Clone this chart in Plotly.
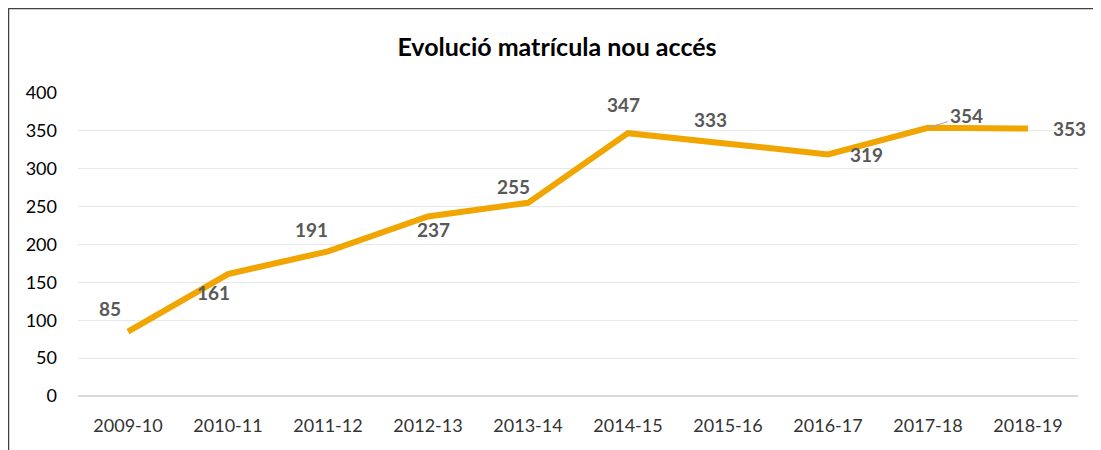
import plotly.graph_objects as go

categories = ["2009-10", "2010-11", "2011-12", "2012-13", "2013-14",
              "2014-15", "2015-16", "2016-17", "2017-18", "2018-19"]
values = [85, 161, 191, 237, 255, 347, 333, 319, 354, 353]
label_shift_x = [-18, -15, -17, 5, -15, -5, -18, 38, 38, 41]
label_shift_y = [23, -18, 22, -13, 16, 29, 24, 0, 12, 0]
y_ticks = [0, 50, 100, 150, 200, 250, 300, 350, 400]

FONT = "Lato"
fig = go.Figure()
fig.add_trace(go.Scatter(
    x=list(range(len(categories))), y=values, mode="lines",
    line=dict(color="#F0A500", width=6), hoverinfo="skip", showlegend=False,
))

for i, (c, v) in enumerate(zip(categories, values)):
    if i == 8:
        fig.add_annotation(x=i, y=v, text=str(v), showarrow=True, arrowhead=0,
                           arrowwidth=1, arrowcolor="#A6A6A6", ax=label_shift_x[i],
                           ay=-label_shift_y[i], standoff=0, startstandoff=0,
                           font=dict(family=FONT, size=19, color="#595959", weight="bold"))
    else:
        fig.add_annotation(x=i, y=v, text=str(v), showarrow=False,
                           xshift=label_shift_x[i], yshift=label_shift_y[i],
                           font=dict(family=FONT, size=19, color="#595959", weight="bold"))

# chart border (left and top)
fig.add_shape(type="line", xref="paper", yref="paper", x0=-0.0695, x1=-0.0695,
              y0=1.28, y1=-0.3, line=dict(color="#404040", width=1.5))
fig.add_shape(type="line", xref="paper", yref="paper", x0=-0.0695, x1=1.02,
              y0=1.2785, y1=1.2785, line=dict(color="#404040", width=1.5))

fig.update_layout(
    width=1085, height=442,
    margin=dict(l=70, r=15, t=85, b=54),
    paper_bgcolor="white", plot_bgcolor="white",
    title=dict(text="<b>Evolució matrícula nou accés</b>", x=0.479, xref="paper",
               y=1 - 39 / 442, yanchor="middle", xanchor="center",
               font=dict(family=FONT, size=25, color="#000000")),
    xaxis=dict(range=[-0.5, 9.5], tickmode="array", automargin=False,
               tickvals=list(range(len(categories))), ticktext=categories,
               showgrid=False, zeroline=False, showline=False, ticks="",
               ticklabelstandoff=17,
               tickfont=dict(family=FONT, size=18, color="#333333")),
    yaxis=dict(range=[0, 400], tickmode="array", tickvals=y_ticks, automargin=False,
               showgrid=True, gridcolor="#E8E8E8", gridwidth=1,
               zeroline=True, zerolinecolor="#D9D9D9", zerolinewidth=2,
               showline=False, ticks="", ticklabelstandoff=20,
               tickfont=dict(family=FONT, size=18, color="#000000")),
)
fig.write_html("out.html")
